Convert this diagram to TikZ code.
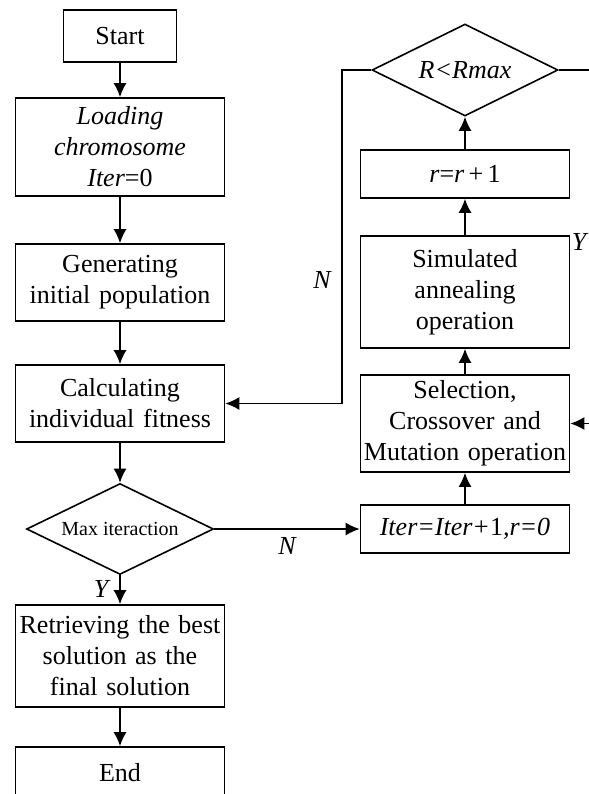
\documentclass[tikz,border=0pt]{standalone}
\usepackage{fontspec}
\setmainfont{Liberation Serif}
\usetikzlibrary{shapes.geometric, arrows.meta}
\tikzset{
  proc/.style={draw, line width=0.8pt, minimum width=104.5pt, text width=102pt, align=center, inner sep=0pt, font=\fontsize{13}{15.5}\selectfont},
  decide/.style={draw, diamond, line width=0.8pt, inner sep=0pt, aspect=2},
  lbl/.style={font=\fontsize{13}{15.5}\selectfont\itshape}
}
\begin{document}
\begin{tikzpicture}[x=0.5pt, y=-0.5pt, line width=0.8pt, >={Latex[length=7pt, width=6.5pt]}]
      \useasboundingbox (0,0) rectangle (589,794);
      \node[proc, minimum width=56.5pt, text width=54pt, minimum height=26pt] (start) at (120, 36) {Start};
      \node[proc, minimum height=49pt] (load) at (120, 147) {\textit{Loading}\\\textit{chromosome}\\\textit{Iter}=0};
      \node[proc, minimum height=38.5pt] (gen) at (120, 282.5) {Generating\\initial population};
      \node[proc, minimum height=38.5pt] (calc) at (120, 403.5) {Calculating\\individual fitness};
      \node[decide, minimum width=93.5pt, minimum height=45.5pt, font=\fontsize{10}{12}\selectfont] (maxit) at (120, 529) {Max iteraction};
      \node[proc, minimum height=51pt] (best) at (120, 656) {Retrieving the best\\solution as the\\final solution};
      \node[proc, minimum height=26pt] (end) at (120, 773) {End};
      \node[decide, minimum width=93pt, minimum height=46pt, font=\fontsize{13}{15.5}\selectfont\itshape] (rmax) at (465, 70) {R<Rmax};
      \node[proc, minimum height=24pt] (rinc) at (465, 174) {\textit{r}=\textit{r}\,+\,1};
      \node[proc, minimum height=56pt] (sa) at (465, 292) {Simulated\\annealing\\operation};
      \node[proc, minimum height=48.5pt] (sel) at (465, 423.5) {Selection,\\Crossover and\\Mutation operation};
      \node[proc, minimum height=24pt] (iter) at (465, 529) {\textit{Iter=Iter+}1\textit{,r=0}};
      \node[lbl] (ylow) at (101, 589) {Y};
      \node[lbl] (nlow) at (287, 546) {N};
      \node[lbl] (nleft) at (322, 280) {N};
      \node[lbl] (ysa) at (579, 242) {Y};
      \coordinate (rout) at (589, 70);
      \coordinate (rin) at (589, 423.5);
      \draw[->] (start) -- (load);
      \draw[->] (load) -- (gen);
      \draw[->] (gen) -- (calc);
      \draw[->] (calc) -- (maxit);
      \draw[->] (maxit) -- (best);
      \draw[->] (best) -- (end);
      \draw[->] (maxit) -- (iter);
      \draw[->] (iter) -- (sel);
      \draw[->] (sel) -- (sa);
      \draw[->] (sa) -- (rinc);
      \draw[->] (rinc) -- (rmax);
      \draw[->] (rmax.west) -- ++(-29, 0) |- (calc.east);
      \draw (rmax.east) -- (rout);
      \draw[->] (rin) -- (sel.east);
    \end{tikzpicture}
\end{document}
